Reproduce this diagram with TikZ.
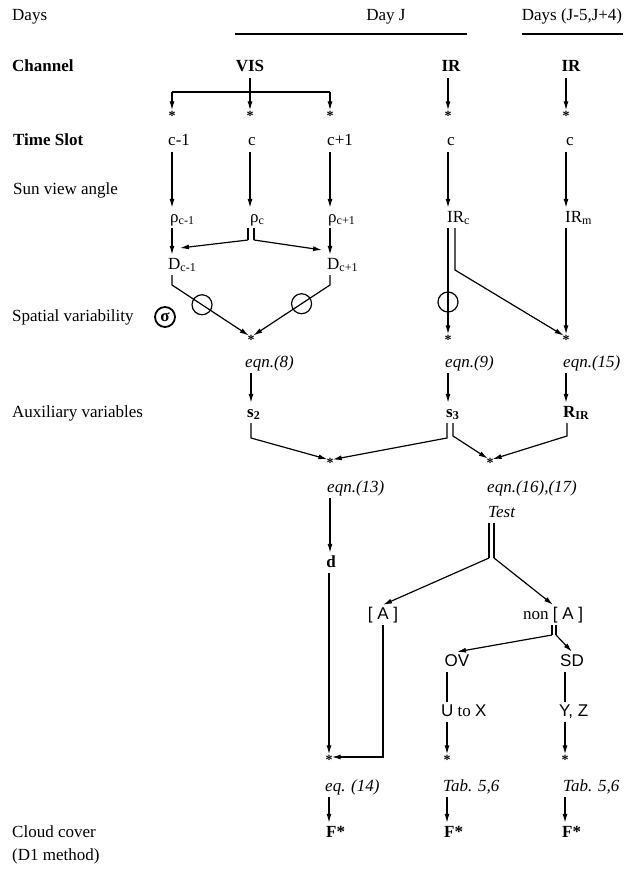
\documentclass[tikz,border=0pt]{standalone}
\usepackage{fontspec}
\setmainfont{Liberation Serif}
\newfontfamily\sansf{Liberation Sans}
\usetikzlibrary{arrows.meta,calc}
\newcommand\lsub[1]{\raisebox{-0.35ex}{\fontsize{12}{12}\selectfont #1}}
\newcommand\astk{\makebox[0pt]{\raisebox{-7.2pt}[0pt][0pt]{\fontsize{14}{14}\selectfont\bfseries *}}}
\begin{document}
\begin{tikzpicture}[x=1pt,y=-1pt,
  every node/.style={font=\fontsize{17}{20}\selectfont},
  t/.style={inner sep=2pt, text height=12pt, text depth=4pt},
  lbl/.style={anchor=west},
  bf/.style={font=\fontsize{17}{20}\selectfont\bfseries},
  it/.style={font=\fontsize{17}{20}\selectfont\itshape},
  ast/.style={circle, inner sep=0pt, minimum size=5pt},
  arr/.style={line width=1.2pt, -{Latex[length=9pt,width=5pt]}},
  ln/.style={line width=1.2pt},
  ring0/.style={circle, draw, line width=1.2pt, minimum size=20pt, inner sep=0pt},
  sig/.style={circle, draw, line width=1.8pt, minimum size=20pt, inner sep=0pt, font=\fontsize{17}{17}\selectfont\bfseries},
]
\useasboundingbox (0,0) rectangle (636,869);

% header
\node[t,lbl] (days) at (10,17) {Days};
\node[t] (dayj) at (386,17) {Day J};
\coordinate (dl1) at (235,34); \coordinate (dl2) at (467,34);
\draw[ln] (dl1) -- (dl2);
\node[t] (daysr) at (572,17) {Days (J-5,J+4)};
\coordinate (dr1) at (522,34); \coordinate (dr2) at (623,34);
\draw[ln] (dr1) -- (dr2);

% channel row
\node[t,lbl,bf] (chan) at (10,68) {Channel};
\node[t,bf] (vis) at (250,68) {VIS};
\node[t,bf] (ir1) at (451,68) {IR};
\node[t,bf] (ir2) at (571,68) {IR};

\node[ast] (a1) at (172,113) {\astk};
\node[ast] (a2) at (250,113) {\astk};
\node[ast] (a3) at (330,113) {\astk};
\node[ast] (a4) at (448,113) {\astk};
\node[ast] (a5) at (566,113) {\astk};
\coordinate (hb) at (250,92);
\draw[arr] (vis.south -| a2) -- (a2.north);
\draw[ln] (a1 |- hb) -- (a3 |- hb);
\draw[arr] (a1 |- hb) -- (a1.north);
\draw[arr] (a3 |- hb) -- (a3.north);
\draw[arr] (ir1.south -| a4) -- (a4.north);
\draw[arr] (ir2.south -| a5) -- (a5.north);

% time slot row
\node[t,lbl,bf] (ts) at (11,142) {Time Slot};
\node[t,lbl] (tA) at (166,142) {c-1};
\node[t] (tB) at (252,142) {c};
\node[t,lbl] (tC) at (325,142) {c+1};
\node[t] (tD) at (451,142) {c};
\node[t] (tE) at (570,142) {c};

\node[t,lbl] (sva) at (11,190) {Sun view angle};

% rho row
\node[t,lbl] (rA) at (168,218) {ρ\lsub{c-1}};
\node[t,lbl] (rB) at (248,218) {ρ\lsub{c}};
\node[t,lbl] (rC) at (326,218) {ρ\lsub{c+1}};
\node[t,lbl] (rD) at (445,218) {IR\lsub{c}};
\node[t,lbl] (rE) at (563,218) {IR\lsub{m}};

\draw[arr] (tA.south -| a1) -- (rA.north -| a1);
\draw[arr] (tB.south -| a2) -- (rB.north -| a2);
\draw[arr] (tC.south -| a3) -- (rC.north -| a3);
\draw[arr] (tD.south -| a4) -- (rD.north -| a4);
\draw[arr] (tE.south -| a5) -- (rE.north -| a5);

% D row
\node[t,lbl] (dA) at (166,265) {D\lsub{c-1}};
\node[t,lbl] (dC) at (325,265) {D\lsub{c+1}};

\draw[arr] (rA.south -| a1) -- (dA.north -| a1);
\draw[arr] (rC.south -| a3) -- (dC.north -| a3);
\coordinate (rBl) at (248,240); \coordinate (rBr) at (254,240);
\draw[ln] (rB.south -| rBl) -- (rBl);
\draw[ln] (rB.south -| rBr) -- (rBr);
\coordinate (tL) at (180,248); \coordinate (tR) at (322,250);
\draw[arr] (rBl) -- (tL);
\draw[arr] (rBr) -- (tR);

% spatial variability
\node[t,lbl] (spv) at (10,317) {Spatial variability};
\node[sig] (sigma) at (165,317) {σ};

\node[ast] (m1) at (251,337) {\astk};
\node[ast] (m2) at (448,337) {\astk};
\node[ast] (m3) at (566,337) {\astk};

\coordinate (kA) at (172,285); \coordinate (kC) at (330,285);
\draw[arr] (dA.south -| kA) -- (kA) -- (m1);
\draw[arr] (dC.south -| kC) -- (kC) -- (m1);
\node[ring0] (o1) at ($(kA)!0.38!(m1)$) {};
\node[ring0] (o2) at ($(kC)!0.36!(m1)$) {};

\coordinate (iR) at (455,270);
\draw[arr] (rD.south -| m2) -- (m2.north);
\node[ring0] (o3) at (448,302) {};
\draw[arr] (rD.south -| iR) -- (iR) -- (m3);
\draw[arr] (rE.south -| m3) -- (m3.north);

% eqn row
\node[t,lbl,it] (e8) at (243,363) {eqn.(8)};
\node[t,lbl,it] (e9) at (443,363) {eqn.(9)};
\node[t,lbl,it] (e15) at (561,363) {eqn.(15)};

\node[t,lbl] (aux) at (10,413) {Auxiliary variables};
\node[t,lbl,bf] (s2) at (245,413) {s\lsub{2}};
\node[t,lbl,bf] (s3) at (444,413) {s\lsub{3}};
\node[t,lbl,bf] (rir) at (561,413) {R\lsub{IR}};

\draw[arr] (e8.south -| m1) -- (s2.north -| m1);
\draw[arr] (e9.south -| m2) -- (s3.north -| m2);
\draw[arr] (e15.south -| m3) -- (rir.north -| m3);

\node[ast] (n1) at (330,460) {\astk};
\node[ast] (n2) at (490,460) {\astk};
\coordinate (sA) at (251,438); \coordinate (sBl) at (447,438);
\coordinate (sBr) at (453,436); \coordinate (sC) at (567,436);
\draw[arr] (s2.south -| sA) -- (sA) -- (n1);
\draw[arr] (s3.south -| sBl) -- (sBl) -- (n1);
\draw[arr] (s3.south -| sBr) -- (sBr) -- (n2);
\draw[arr] (rir.south -| sC) -- (sC) -- (n2);

\node[t,lbl,it] (e13) at (325,488) {eqn.(13)};
\node[t,lbl,it] (e16) at (485,488) {eqn.(16),(17)};
\node[t,lbl,it] (test) at (486,513) {Test};

\node[t,bf] (d) at (331,563) {d};
\draw[arr] (e13.south -| n1) -- (d.north -| n1);

\coordinate (tsl) at (489,558); \coordinate (tsr) at (494,558);
\draw[ln] (test.south -| tsl) -- (tsl);
\draw[ln] (test.south -| tsr) -- (tsr);

\node[t] (brA) at (383,615) {{\sansf [ A ]}};
\node[t,lbl] (nA) at (521,615) {non {\sansf [ A ]}};
\coordinate (xH) at (553,600);
\draw[arr] (tsl) -- (brA.north);
\draw[arr] (tsr) -- (nA.north -| xH);

\node[t] (ov) at (457,662) {\sansf OV};
\node[t] (sd) at (572,662) {\sansf SD};
\coordinate (nsl) at (552,635); \coordinate (nsr) at (556,635);
\draw[ln] (nA.south -| nsl) -- (nsl);
\draw[ln] (nA.south -| nsr) -- (nsr);
\draw[arr] (nsl) -- (ov.north);
\draw[arr] (nsr) -- (sd.north);

\node[t,lbl] (ux) at (439,712) {{\sansf U} to {\sansf X}};
\node[t,lbl] (yz) at (557,712) {\sansf Y, Z};

\node[ast] (p1) at (329,757) {\astk};
\node[ast] (p2) at (447,757) {\astk};
\node[ast] (p3) at (565,757) {\astk};

\draw[arr] (d.south -| p1) -- (p1.north);
\draw[arr] (brA.south) -- (brA.south |- p1) -- (p1);
\draw[ln] (ov.south -| p2) -- (ux.north -| p2);
\draw[arr] (ux.south -| p2) -- (p2.north);
\draw[ln] (sd.south -| p3) -- (yz.north -| p3);
\draw[arr] (yz.south -| p3) -- (p3.north);

% bottom
\node[t,lbl,it] (e14) at (323,787) {eq. (14)};
\node[t,lbl,it] (tab1) at (441,787) {Tab. 5,6};
\node[t,lbl,it] (tab2) at (561,787) {Tab. 5,6};

\node[t,lbl,bf] (f1) at (324,833) {F*};
\node[t,lbl,bf] (f2) at (442,833) {F*};
\node[t,lbl,bf] (f3) at (560,833) {F*};
\draw[arr] (e14.south -| p1) -- (f1.north -| p1);
\draw[arr] (tab1.south -| p2) -- (f2.north -| p2);
\draw[arr] (tab2.south -| p3) -- (f3.north -| p3);

\node[t,lbl] (cc) at (10,833) {Cloud cover};
\node[t,lbl] (d1m) at (10,856) {(D1 method)};
\end{tikzpicture}
\end{document}
